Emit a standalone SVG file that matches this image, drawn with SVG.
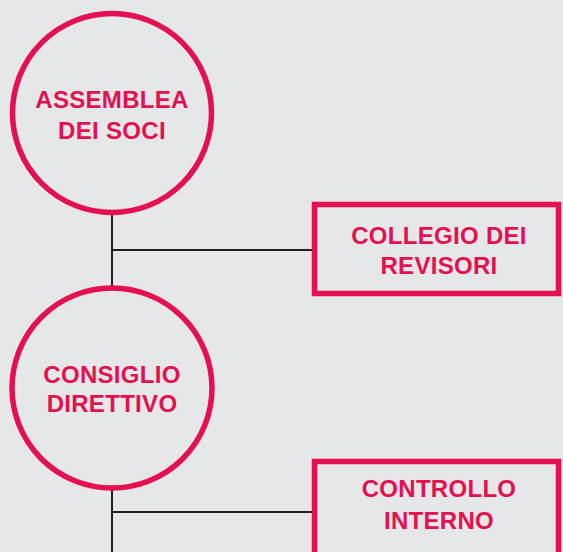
<svg xmlns="http://www.w3.org/2000/svg" width="563" height="552" viewBox="0 0 563 552">
<style>
.node{fill:none;stroke:#e4104f;stroke-width:5.5}
.lbl{font-family:"Liberation Sans",Arial,sans-serif;font-weight:bold;font-size:24px;fill:#e4104f;text-anchor:middle;letter-spacing:0.3px}
.conn{stroke:#231f20;stroke-width:2;fill:none}
</style>
<rect x="0" y="0" width="563" height="552" fill="#e6e7e8"/>
<g id="connectors">
<line class="conn" x1="112" y1="214" x2="112" y2="286"/>
<line class="conn" x1="112" y1="250" x2="313" y2="250"/>
<line class="conn" x1="112" y1="489" x2="112" y2="552"/>
<line class="conn" x1="112" y1="512" x2="313" y2="512"/>
</g>
<g id="assemblea">
<circle class="node" cx="112" cy="113" r="99.5"/>
<text class="lbl" x="112" y="108">ASSEMBLEA</text>
<text class="lbl" x="112" y="139">DEI SOCI</text>
</g>
<g id="collegio">
<rect class="node" x="314.5" y="204.5" width="244" height="89"/>
<text class="lbl" x="439" y="244">COLLEGIO DEI</text>
<text class="lbl" x="439" y="274">REVISORI</text>
</g>
<g id="consiglio">
<circle class="node" cx="112" cy="388" r="100"/>
<text class="lbl" x="112" y="383">CONSIGLIO</text>
<text class="lbl" x="112" y="412">DIRETTIVO</text>
</g>
<g id="controllo">
<rect class="node" x="314.5" y="461.5" width="244" height="110"/>
<text class="lbl" x="439" y="497">CONTROLLO</text>
<text class="lbl" x="439" y="529">INTERNO</text>
</g>
</svg>
